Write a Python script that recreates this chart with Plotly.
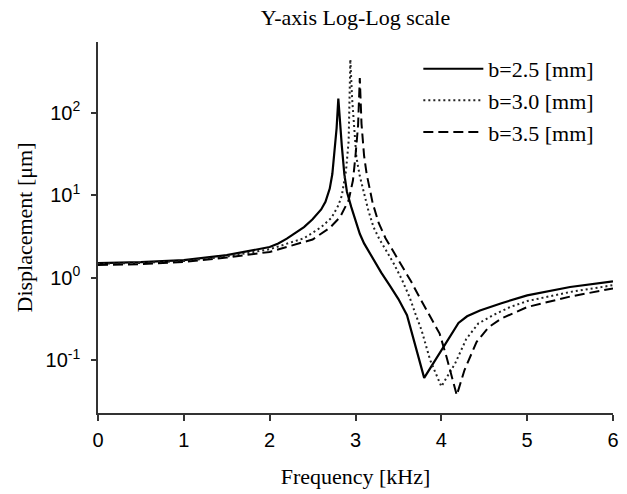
import plotly.graph_objects as go

# ---- data ----
freq_b25 = [0, 0.5, 1.0, 1.5, 2.0, 2.1, 2.2, 2.3, 2.4, 2.5, 2.55, 2.6, 2.65, 2.7, 2.73, 2.76, 2.78, 2.8,
            2.82, 2.84, 2.87, 2.9, 2.95, 3.0, 3.05, 3.1, 3.2, 3.3, 3.4, 3.5, 3.6, 3.8, 4.2, 4.3, 4.45, 4.7, 5.0, 5.5, 6.0]
disp_b25 = [1.50, 1.54, 1.63, 1.87, 2.35, 2.6, 2.97, 3.45, 4.1, 5.1, 5.8, 6.7, 8.3, 12, 18, 35, 65, 148,
            70, 40, 18, 11, 7.2, 4.8, 3.4, 2.6, 1.7, 1.15, 0.8, 0.55, 0.35, 0.061, 0.283, 0.34, 0.40, 0.49, 0.61, 0.77, 0.90]

freq_b30 = [0, 0.5, 1.0, 1.5, 2.0, 2.2, 2.4, 2.5, 2.6, 2.72, 2.8, 2.84, 2.89, 2.92, 2.94, 2.96, 2.98, 3.01, 3.05,
            3.09, 3.15, 3.21, 3.28, 3.35, 3.45, 3.54, 3.63, 3.7, 3.77, 3.87, 4.0, 4.16, 4.29, 4.43, 4.6, 4.8, 5.0, 5.5, 6.0]
disp_b30 = [1.47, 1.51, 1.59, 1.80, 2.21, 2.55, 3.0, 3.5, 4.1, 5.3, 7.5, 9.8, 20, 45, 441, 150, 70, 29, 17,
            11.4, 6.5, 4.1, 2.9, 2.2, 1.45, 0.95, 0.58, 0.36, 0.23, 0.10, 0.048, 0.091, 0.18, 0.278, 0.35, 0.44, 0.52, 0.67, 0.81]

freq_b35 = [0, 0.5, 1.0, 1.5, 2.0, 2.2, 2.5, 2.7, 2.82, 2.92, 2.97, 3.0, 3.03, 3.05, 3.07, 3.1, 3.13, 3.2, 3.27,
            3.35, 3.45, 3.55, 3.65, 3.73, 3.81, 3.9, 3.98, 4.06, 4.18, 4.27, 4.41, 4.55, 4.7, 5.0, 5.5, 6.0]
disp_b35 = [1.42, 1.46, 1.55, 1.75, 2.05, 2.35, 2.9, 4.0, 5.4, 8.65, 15, 30, 70, 262, 73, 30, 18, 8.0, 4.6,
            3.0, 2.0, 1.35, 0.89, 0.62, 0.44, 0.30, 0.21, 0.11, 0.0377, 0.076, 0.166, 0.25, 0.32, 0.44, 0.59, 0.74]

series_names = ["b=2.5 [mm]", "b=3.0 [mm]", "b=3.5 [mm]"]
y_tick_vals = [0.1, 1, 10, 100]
y_tick_text = ["10<sup>-1</sup>", "10<sup>0</sup>", "10<sup>1</sup>", "10<sup>2</sup>"]
x_tick_vals = [0, 1, 2, 3, 4, 5, 6]

SERIF = "Liberation Serif, Times New Roman, serif"
SANS = "Liberation Sans, Arial, sans-serif"

fig = go.Figure()
fig.add_trace(go.Scatter(x=freq_b25, y=disp_b25, mode="lines", name=series_names[0],
                         line=dict(color="black", width=2.2, dash="solid")))
fig.add_trace(go.Scatter(x=freq_b30, y=disp_b30, mode="lines", name=series_names[1],
                         line=dict(color="#222", width=2, dash="2px,3px")))
fig.add_trace(go.Scatter(x=freq_b35, y=disp_b35, mode="lines", name=series_names[2],
                         line=dict(color="black", width=2, dash="10px,5px")))

fig.update_layout(
    width=627, height=494,
    margin=dict(l=98, r=14, t=42, b=81),
    paper_bgcolor="white", plot_bgcolor="white",
    title=dict(text="Y-axis Log-Log scale", font=dict(family=SERIF, size=22, color="black"),
               x=0.5, xref="paper", xanchor="center", y=1 - 17 / 494, yref="container", yanchor="middle"),
    showlegend=True,
    legend=dict(x=0.622, y=0.984, xanchor="left", yanchor="top", bgcolor="rgba(0,0,0,0)",
                font=dict(family=SERIF, size=22, color="black"), itemwidth=60, tracegroupgap=0),
    xaxis=dict(range=[0, 6], tickvals=x_tick_vals, showline=True, linecolor="#333", linewidth=1.5,
               ticks="outside", ticklen=6, tickwidth=1.5, tickcolor="#333", showgrid=False, zeroline=False,
               automargin=False, ticklabelstandoff=2,
               tickfont=dict(family=SANS, size=20, color="black"),
               title=dict(text="Frequency [kHz]", font=dict(family=SERIF, size=22, color="black"), standoff=19)),
    yaxis=dict(type="log", range=[-1.64, 2.855], tickvals=y_tick_vals, ticktext=y_tick_text,
               showline=True, linecolor="#333", linewidth=1.5, ticks="outside", ticklen=5, tickwidth=1.5,
               tickcolor="#333", showgrid=False, zeroline=False, automargin=False, ticklabelstandoff=7,
               tickfont=dict(family=SANS, size=20, color="black"),
               title=dict(text="Displacement [μm]", font=dict(family=SERIF, size=22, color="black"), standoff=7)),
)

fig.write_html("out.html", config={"displayModeBar": False},
               post_script="document.body.style.margin='0';")
